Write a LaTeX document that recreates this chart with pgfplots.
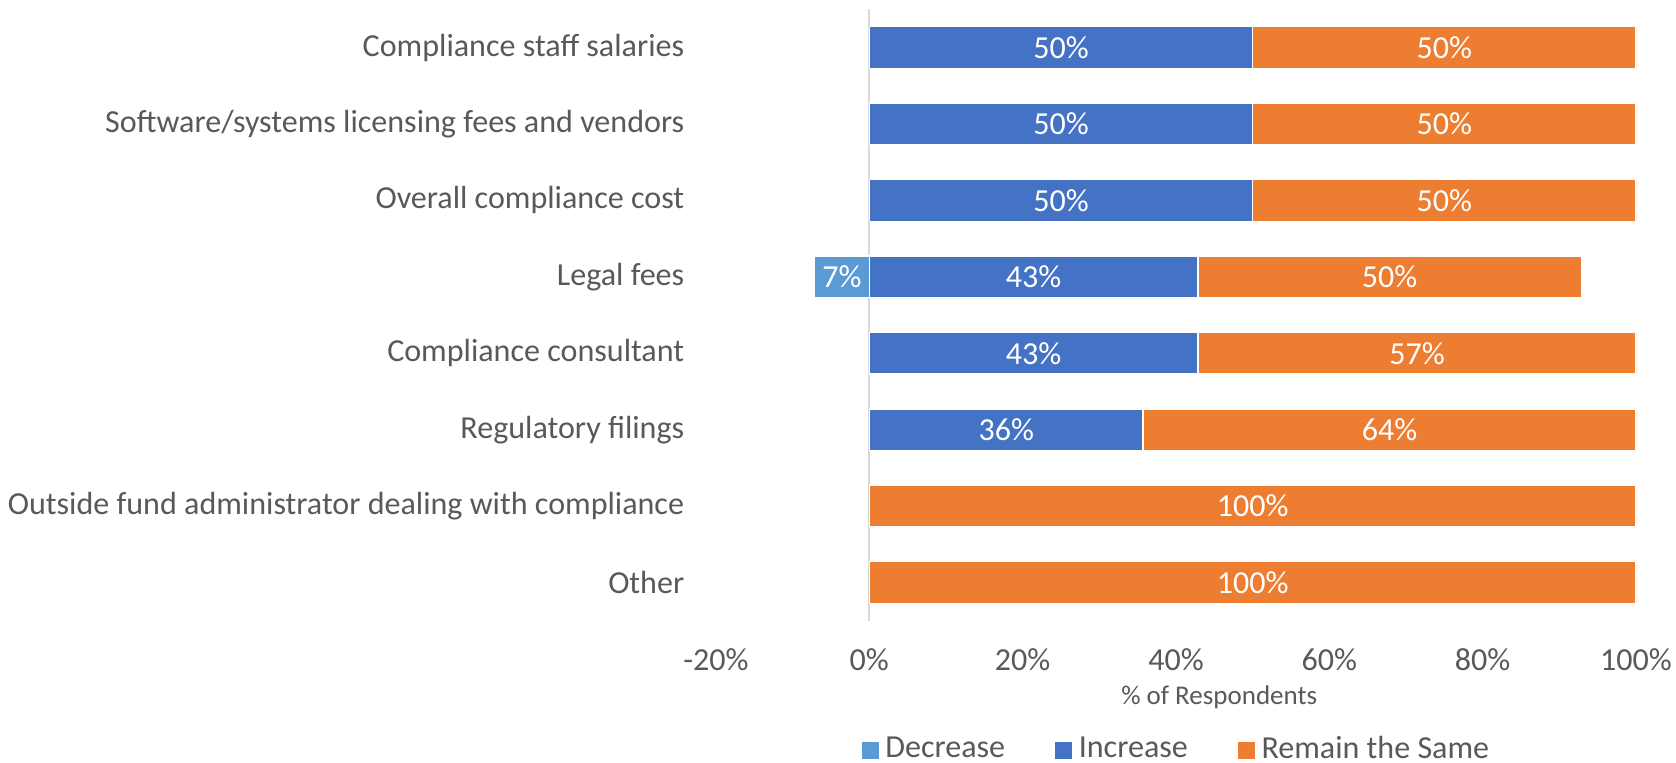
\documentclass[border=0pt]{standalone}
\usepackage{pgfplots}
\pgfplotsset{compat=1.18}
\usepackage{fontspec}
\setmainfont{Carlito}
\definecolor{decC}{HTML}{5B9BD5}
\definecolor{incC}{HTML}{4472C4}
\definecolor{remC}{HTML}{ED7D31}
\definecolor{txt}{HTML}{595959}
\definecolor{gridc}{HTML}{D9D9D9}
\pgfplotsset{
  common/.style={width=276pt, height=183.45pt, scale only axis, xmin=-20, xmax=100, ymin=-0.5, ymax=7.5, y dir=reverse, enlargelimits=false},
  sqleg/.style={legend image code/.code={\path[##1, draw=none] (0pt,-2.55pt) rectangle (5.1pt,2.55pt);}},
}
\begin{document}
\begin{tikzpicture}
\begin{axis}[common,
  xbar stacked, bar width=12.5pt,
  axis line style={draw=none}, tick style={draw=none},
  xtick={-20,0,20,40,60,80,100},
  xticklabels={-20\%,0\%,20\%,40\%,60\%,80\%,100\%},
  ytick={0,...,7},
  yticklabels={Compliance staff salaries, Software/systems licensing fees and vendors, Overall compliance cost, Legal fees, Compliance consultant, Regulatory filings, Outside fund administrator dealing with compliance, Other},
  ticklabel style={font=\fontsize{9.62}{11}\selectfont, text=txt},
  xticklabel style={anchor=center, yshift=-11.6pt},
  yticklabel style={anchor=east, xshift=-6.0pt},
  extra x ticks={0}, extra x tick labels={},
  extra x tick style={grid=major, major grid style={draw=gridc, line width=0.6pt}},
  xlabel={\% of Respondents},
  xlabel style={at={(axis description cs:0.547,0)}, anchor=center, yshift=-22.9pt, font=\fontsize{8.1}{9.5}\selectfont, text=txt},
  legend columns=3,
  legend style={at={(axis description cs:0.503,0)}, anchor=center, yshift=-38.8pt, draw=none, fill=none, font=\fontsize{9.62}{11}\selectfont, text=txt, /tikz/every even column/.append style={column sep=13pt}},
]
\addlegendimage{sqleg, fill=decC}\addlegendentry{Decrease}
\addlegendimage{sqleg, fill=incC}\addlegendentry{Increase}
\addlegendimage{sqleg, fill=remC}\addlegendentry{Remain the Same}
\addplot[fill=incC, draw=white, line width=0.4pt] coordinates {(50,0) (50,1) (50,2) (42.857,3) (42.857,4) (35.714,5) (0,6) (0,7)};
\addplot[fill=remC, draw=white, line width=0.4pt] coordinates {(50,0) (50,1) (50,2) (50,3) (57.143,4) (64.286,5) (100,6) (100,7)};
\end{axis}
\begin{axis}[common, hide axis]
\addplot[xbar, bar width=12.5pt, fill=decC, draw=white, line width=0.4pt] coordinates {(-7.143,3)};
\addplot[draw=none, mark=none, nodes near coords={\pgfmathprintnumber[fixed,precision=0,assume math mode=true]{\pgfplotspointmeta}\%}, point meta=explicit,
  every node near coord/.style={anchor=center, text=white, font=\fontsize{9.62}{11}\selectfont}] table[meta=l] {
x y l
25 0 50
75 0 50
25 1 50
75 1 50
25 2 50
75 2 50
-3.571 3 7.143
21.429 3 42.857
67.857 3 50
21.429 4 42.857
71.429 4 57.143
17.857 5 35.714
67.857 5 64.286
50 6 100
50 7 100
};
\end{axis}
\pgfresetboundingbox
\path[use as bounding box] (-214.8pt,-42.66pt) rectangle (288pt,186.24pt);
\end{tikzpicture}
\end{document}
